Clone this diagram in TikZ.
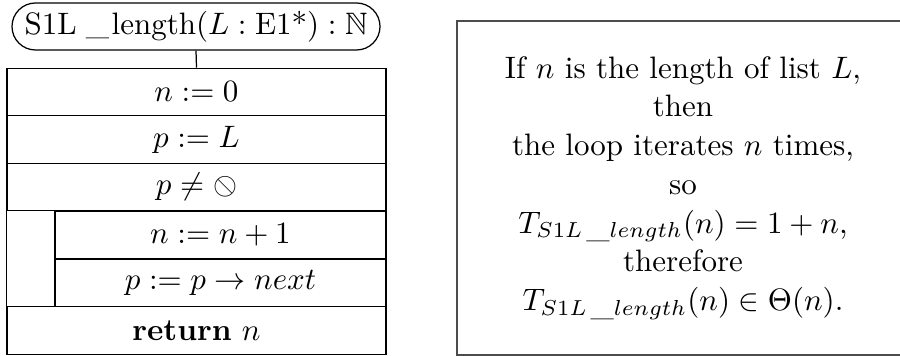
\documentclass[tikz,border=0pt]{standalone}
\usepackage{amssymb}
\usepackage{graphicx}
\usetikzlibrary{shapes.misc}
\newcommand{\nullptr}{\mathord{\reflectbox{$\oslash$}}}
\newcommand{\fname}{S1L\hspace{0.3em}\_\hspace{0.08em}length}
\newcommand{\subname}{S1L\,\_length}
\begin{document}
\begin{tikzpicture}[x=0.32258pt,y=-0.32258pt,
  rowbox/.style={draw, inner sep=0pt, minimum height={47.7*0.32258pt}},
  fullrow/.style={rowbox, minimum width={379*0.32258pt}},
  innerrow/.style={rowbox, minimum width={331*0.32258pt}},
  sigbox/.style={draw, rounded rectangle, inner sep=0pt,
    minimum width={368*0.32258pt}, minimum height={47*0.32258pt}},
  notebox/.style={draw=black!70, line width=0.6pt, align=center, inner sep=0pt,
    font=\fontsize{10}{12.5}\selectfont,
    minimum width={452*0.32258pt}, minimum height={334*0.32258pt}}]
\useasboundingbox (0,0) rectangle (900,356);
\clip (0,0) rectangle (900,356);
\node[sigbox] (sig) at (196,26.5) {\fname$(L:\mbox{E1*}):\mathbb{N}$};
\node[fullrow] (r1) at (196.5,92) {$n:=0$};
\node[fullrow] (r2) at (196.5,139.5) {$p:=L$};
\node[fullrow] (r3) at (196.5,187) {$p\neq\nullptr$};
\node[innerrow] (r4) at (220.5,235) {$n:=n+1$};
\node[innerrow] (r5) at (220.5,283) {$p:=p\rightarrow next$};
\node[fullrow] (r6) at (196.5,330.5) {\textbf{return} $n$};
\draw (sig.south) -- (r1.north);
\draw (r3.south west) -- (r6.north west);
\node[notebox] (note) at (683,188) {If $n$ is the length of list $L$,\\ then\\ the loop iterates $n$ times,\\ so\\ $T_{\subname}(n)=1+n$,\\ therefore\\ $T_{\subname}(n)\in\Theta(n)$.};
\end{tikzpicture}
\end{document}
